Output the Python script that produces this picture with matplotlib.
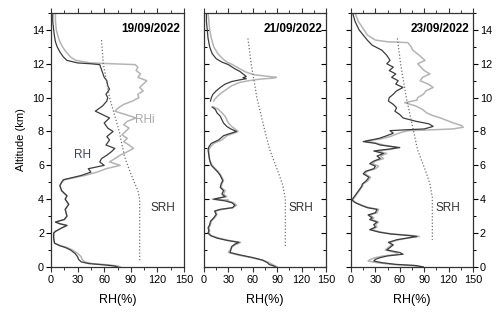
import numpy as np
import matplotlib
matplotlib.use("Agg")
import matplotlib.pyplot as plt
from matplotlib.ticker import MultipleLocator

plt.rcParams['font.family'] = ['Liberation Sans', 'DejaVu Sans']

dates = ["19/09/2022", "21/09/2022", "23/09/2022"]
x_ticks = [0, 30, 60, 90, 120, 150]
y_ticks = [0, 2, 4, 6, 8, 10, 12, 14]

# (altitude km, RH %) profiles
rh_0919 = [(15.0, 2), (14.5, 2), (14.0, 3), (13.6, 4), (13.3, 5), (13.0, 7), (12.7, 10), (12.4, 14),
           (12.2, 18), (12.05, 30), (12.0, 45), (11.95, 55), (11.8, 56), (11.5, 58), (11.2, 60),
           (11.0, 63), (10.7, 64), (10.5, 66), (10.2, 62), (10.0, 64), (9.8, 63), (9.5, 58),
           (9.2, 50), (9.0, 58), (8.8, 66), (8.5, 60), (8.2, 64), (8.0, 70), (7.7, 63), (7.5, 66),
           (7.2, 62), (7.0, 72), (6.8, 68), (6.6, 63), (6.4, 57), (6.2, 55), (6.0, 60), (5.8, 42),
           (5.6, 45), (5.4, 34), (5.25, 22), (5.15, 14), (5.0, 12), (4.8, 10), (4.5, 12), (4.2, 18),
           (4.0, 16), (3.7, 20), (3.4, 16), (3.0, 18), (2.8, 15), (2.65, 5), (2.55, 10), (2.45, 18),
           (2.3, 12), (2.1, 5), (2.0, 3), (1.7, 3), (1.4, 4), (1.25, 10), (1.15, 16), (1.0, 22),
           (0.8, 27), (0.6, 30), (0.45, 31), (0.3, 34), (0.2, 42), (0.12, 60), (0.05, 72), (0.0, 75)]
rhi_0919 = [(15.0, 5), (14.5, 5), (14.0, 6), (13.6, 8), (13.3, 10), (13.0, 13), (12.7, 17), (12.4, 22),
            (12.2, 28), (12.05, 45), (12.0, 70), (11.95, 95), (11.8, 98), (11.6, 96), (11.4, 101),
            (11.2, 98), (11.0, 108), (10.8, 104), (10.6, 100), (10.4, 104), (10.2, 98), (10.0, 99),
            (9.8, 92), (9.6, 82), (9.4, 76), (9.2, 72), (9.0, 84), (8.8, 96), (8.6, 86), (8.4, 82),
            (8.2, 88), (8.0, 84), (7.8, 80), (7.6, 86), (7.4, 82), (7.2, 88), (7.0, 93), (6.8, 86),
            (6.6, 78), (6.4, 72), (6.2, 66), (6.0, 78), (5.8, 62), (5.6, 52), (5.4, 38), (5.25, 24),
            (5.15, 15), (5.0, 12), (4.8, 10), (4.5, 12), (4.2, 18), (4.0, 16), (3.7, 20), (3.4, 16),
            (3.0, 18), (2.8, 15), (2.65, 5), (2.55, 10), (2.45, 18), (2.3, 12), (2.1, 5), (2.0, 3),
            (1.7, 3), (1.4, 4), (1.25, 11), (1.15, 18), (1.0, 24), (0.8, 30), (0.6, 34), (0.45, 35),
            (0.3, 38), (0.2, 46), (0.12, 65), (0.05, 76), (0.0, 78)]
srh_0919 = [(13.4, 57), (12.0, 59), (10.0, 66), (8.0, 77), (6.5, 83), (5.5, 90), (4.5, 98), (4.0, 100), (0.3, 100)]

rh_0921 = [(15.0, 3), (14.5, 3), (14.0, 4), (13.5, 5), (13.0, 7), (12.6, 10), (12.3, 15), (12.1, 22),
           (11.95, 30), (11.7, 38), (11.55, 44), (11.4, 48), (11.25, 52), (11.18, 48), (11.12, 52),
           (11.05, 44), (10.95, 34), (10.8, 26), (10.6, 20), (10.4, 15), (10.2, 11), (10.0, 9),
           (9.8, 8), (9.6, np.nan), (9.45, 10), (9.3, 14), (9.1, 16), (8.9, 20), (8.7, 22), (8.5, 24),
           (8.3, 28), (8.15, 33), (8.0, 40), (7.85, 30), (7.75, 24), (7.5, 18), (7.3, 9), (7.1, 6),
           (6.9, 5), (6.6, 6), (6.3, 7), (6.0, 9), (5.8, 13), (5.6, 17), (5.4, 20), (5.1, 23),
           (4.9, 21), (4.7, 20), (4.5, 24), (4.3, 22), (4.15, 26), (4.0, 12), (3.9, 26), (3.8, 34),
           (3.65, 38), (3.5, 35), (3.4, 20), (3.3, 13), (3.1, 15), (2.9, 12), (2.7, 8), (2.5, 7),
           (2.3, 5), (2.15, 6), (2.0, 5), (1.85, 8), (1.7, 16), (1.55, 30), (1.45, 43), (1.35, 38),
           (1.2, 34), (1.0, 33), (0.85, 32), (0.7, 45), (0.55, 60), (0.4, 72), (0.25, 78),
           (0.15, 80), (0.05, 86), (0.0, 88)]
rhi_0921 = [(15.0, 5), (14.5, 6), (14.0, 7), (13.5, 9), (13.0, 12), (12.6, 17), (12.3, 23), (12.1, 28),
            (11.95, 35), (11.7, 44), (11.5, 52), (11.35, 62), (11.25, 80), (11.2, 89), (11.15, 85),
            (11.1, 70), (11.0, 55), (10.9, 44), (10.7, 34), (10.5, 28), (10.3, 22), (10.1, 17),
            (9.9, 13), (9.8, 12), (9.6, np.nan), (9.45, 12), (9.3, 18), (9.1, 22), (8.9, 26), (8.7, 28),
            (8.5, 30), (8.3, 34), (8.15, 38), (8.0, 42), (7.85, 34), (7.75, 28), (7.5, 22), (7.3, 12),
            (7.1, 8), (6.9, 6), (6.6, 6), (6.3, 7), (6.0, 10), (5.8, 14), (5.6, 18), (5.4, 21),
            (5.1, 24), (4.9, 22), (4.7, 21), (4.5, 26), (4.3, 24), (4.15, 28), (4.0, 10), (3.95, 30),
            (3.9, 28), (3.8, 36), (3.65, 40), (3.5, 36), (3.4, 22), (3.3, 14), (3.1, 16), (2.9, 13),
            (2.7, 9), (2.5, 8), (2.3, 6), (2.15, 7), (2.0, 6), (1.85, 9), (1.7, 18), (1.55, 32),
            (1.45, 45), (1.35, 40), (1.2, 35), (1.0, 32), (0.85, 30), (0.7, 42), (0.55, 58),
            (0.4, 72), (0.25, 80), (0.15, 84), (0.05, 88), (0.0, 90)]
srh_0921 = [(13.5, 54), (12.0, 58), (10.0, 65), (8.0, 75), (6.9, 81), (5.5, 92), (4.8, 97), (4.0, 100), (1.2, 100)]

rh_0923 = [(15.0, 2), (14.5, 5), (14.0, 10), (13.7, 15), (13.4, 20), (13.1, 26), (12.8, 38), (12.5, 44),
           (12.2, 48), (12.0, 44), (11.8, 52), (11.6, 47), (11.4, 55), (11.2, 50), (11.0, 58),
           (10.8, 55), (10.6, 64), (10.4, 56), (10.2, 52), (10.0, 47), (9.8, 46), (9.6, 52),
           (9.4, 56), (9.2, 54), (9.0, 60), (8.8, 64), (8.6, 80), (8.45, 96), (8.3, 101), (8.15, 90),
           (8.1, 68), (8.05, 48), (7.9, 52), (7.75, 44), (7.6, 35), (7.45, 20), (7.4, 15), (7.3, 30),
           (7.2, 36), (7.05, 60), (6.95, 45), (6.85, 28), (6.7, 40), (6.55, 32), (6.4, 36),
           (6.25, 28), (6.1, 23), (5.95, 30), (5.8, 28), (5.65, 18), (5.5, 15), (5.3, 22), (5.1, 19),
           (4.9, 14), (4.75, 13), (4.55, 10), (4.35, 7), (4.15, 4), (3.95, 1), (3.8, 5), (3.65, 12),
           (3.5, 20), (3.4, 32), (3.2, 30), (3.07, 21), (2.9, 26), (2.8, 23), (2.65, 32), (2.5, 28),
           (2.35, 30), (2.2, 23), (2.05, 35), (1.95, 48), (1.85, 72), (1.8, 81), (1.7, 68),
           (1.6, 56), (1.45, 46), (1.3, 52), (1.15, 48), (1.0, 44), (0.85, 60), (0.75, 64),
           (0.65, 45), (0.55, 36), (0.45, 30), (0.35, 28), (0.25, 38), (0.15, 55), (0.08, 80),
           (0.0, 89)]
rhi_0923 = [(15.0, 5), (14.5, 9), (14.0, 16), (13.7, 20), (13.4, 30), (13.3, 45), (13.25, 70), (13.0, 74),
            (12.8, 76), (12.5, 84), (12.2, 91), (12.0, 82), (11.8, 86), (11.6, 90), (11.4, 97),
            (11.2, 88), (11.0, 85), (10.8, 95), (10.6, 101), (10.4, 92), (10.2, 89), (10.0, 82),
            (9.85, 81), (9.7, 66), (9.5, 80), (9.3, 88), (9.1, 93), (8.95, 100), (8.8, 110),
            (8.65, 118), (8.5, 126), (8.35, 136), (8.25, 138), (8.15, 125), (8.1, 100), (8.05, 70),
            (7.95, 62), (7.85, 56), (7.7, 48), (7.55, 36), (7.45, 18), (7.35, 28), (7.2, 40),
            (7.05, 56), (6.95, 50), (6.85, 32), (6.7, 44), (6.55, 36), (6.4, 40), (6.25, 30),
            (6.1, 26), (5.95, 34), (5.8, 30), (5.65, 20), (5.5, 17), (5.3, 24), (5.1, 21), (4.9, 15),
            (4.75, 14), (4.55, 11), (4.35, 8), (4.15, 5), (3.95, 2), (3.8, 6), (3.65, 13), (3.5, 22),
            (3.4, 34), (3.2, 32), (3.07, 23), (2.9, 28), (2.8, 25), (2.65, 34), (2.5, 30), (2.35, 32),
            (2.2, 25), (2.05, 37), (1.95, 50), (1.85, 76), (1.8, 84), (1.7, 70), (1.6, 58),
            (1.45, 48), (1.3, 50), (1.15, 46), (1.0, 42), (0.85, 55), (0.75, 58), (0.65, 40),
            (0.55, 30), (0.45, 24), (0.35, 21), (0.25, 32), (0.15, 50), (0.08, 76), (0.0, 86)]
srh_0923 = [(13.5, 57), (12.0, 61), (10.0, 68), (8.0, 77), (6.9, 82), (5.5, 93), (4.9, 97), (4.1, 100), (1.6, 100)]

profiles = [(rh_0919, rhi_0919, srh_0919), (rh_0921, rhi_0921, srh_0921), (rh_0923, rhi_0923, srh_0923)]

DARK = '#3c3c3c'
LIGHT = '#b4b4b4'
SRHC = '#707070'

fig = plt.figure(figsize=(5.0, 3.17), dpi=100)
bottom, height = 0.158, 0.801
rects = [[0.102, bottom, 0.266, height], [0.408, bottom, 0.244, height], [0.702, bottom, 0.244, height]]

for i, (rect, (rh, rhi, srh), date) in enumerate(zip(rects, profiles, dates)):
    ax = fig.add_axes(rect)
    a, v = zip(*rhi)
    ax.plot(v, a, color=LIGHT, lw=1.1)
    a, v = zip(*rh)
    ax.plot(v, a, color=DARK, lw=0.9)
    a, v = zip(*srh)
    ax.plot(v, a, color=SRHC, lw=0.9, ls=(0, (1, 1.6)))
    ax.set_xlim(0, 150)
    ax.set_ylim(0, 15)
    ax.set_xticks(x_ticks)
    ax.set_yticks(y_ticks)
    ax.xaxis.set_minor_locator(MultipleLocator(15))
    ax.yaxis.set_minor_locator(MultipleLocator(1))
    for s in ax.spines.values():
        s.set_linewidth(0.9)
        s.set_color('#333333')
    ax.tick_params(axis='x', which='both', direction='out', top=True, labelsize=7.8, pad=2, color='#333333')
    ax.tick_params(which='major', length=3.5, width=0.8)
    ax.tick_params(which='minor', length=2, width=0.7)
    if i == 0:
        ax.tick_params(axis='y', which='both', direction='out', left=True, right=False, labelsize=7.8, pad=1.5)
        ax.set_ylabel('Altitude (km)', fontsize=8, labelpad=4)
    elif i == 1:
        ax.tick_params(axis='y', which='both', direction='out', left=True, right=False, labelleft=False)
        ax.tick_params(axis='y', which='both', direction='in', right=True)
    else:
        ax.tick_params(axis='y', which='both', direction='out', left=True, right=True,
                       labelleft=False, labelright=True, labelsize=7.8, pad=1.5)
    ax.set_xlabel('RH(%)', fontsize=9, labelpad=7)
    ax.text(0.97, 0.96, date, transform=ax.transAxes, ha='right', va='top',
            fontsize=8.5, fontweight='bold')
    ax.text(126 if i == 0 else 119, 3.5, 'SRH', ha='center', va='center', fontsize=8.5, color='#333333')
    if i == 0:
        ax.text(106, 8.7, 'RHi', ha='center', va='center', fontsize=8.5, color='#a8a8a8')
        ax.text(36, 6.6, 'RH', ha='center', va='center', fontsize=8.5, color='#3a4456')

fig.savefig('out.png', dpi=100)
